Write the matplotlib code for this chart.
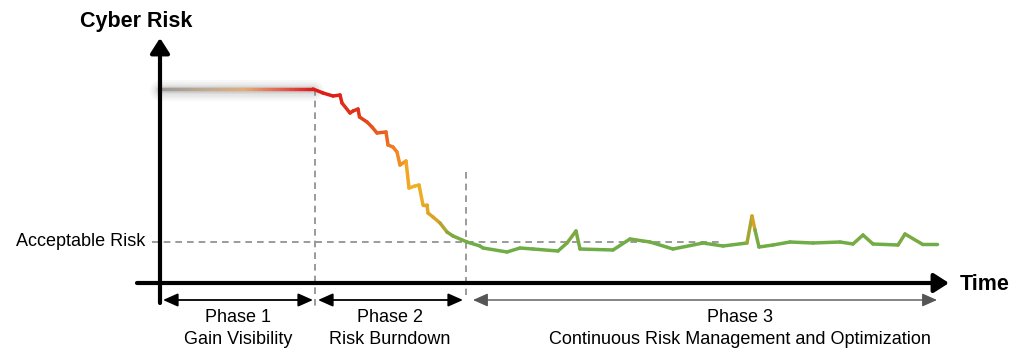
import numpy as np
import matplotlib
matplotlib.use("Agg")
import matplotlib.pyplot as plt
from matplotlib.collections import LineCollection
from matplotlib.colors import LinearSegmentedColormap

# ---------------- data (time units / risk units) -------------
phase1_time = [0, 153]
phase1_risk = [194, 194]

curve_time = [153, 163, 173, 180, 182, 190, 193, 198, 199.5, 207, 212, 217, 226, 228,
              233, 237, 240, 246, 249, 255, 259, 263, 267, 268, 273, 280, 287, 293,
              307, 320,
              323, 347, 360, 373, 398, 407, 416, 420, 453, 470, 490, 513, 543, 563,
              587, 592, 595, 599, 613, 630, 653, 680, 693, 703, 713, 738, 745, 762, 777]
curve_risk = [194, 190, 187, 188, 180, 170, 172, 174, 166, 161, 156, 150, 151, 138,
              136, 131, 118, 122, 95, 97, 98, 78, 78, 70, 66, 60, 51, 47,
              41, 37,
              35, 31, 35, 34, 32, 40, 52, 34, 33, 44, 41, 34, 40, 37,
              40, 67, 53, 36, 38, 41, 40, 41, 39, 48, 39, 38, 49, 39, 39]

acceptable_risk = 41
phase_bounds = [0, 155, 306, 777]
phase_titles = ["Phase 1", "Phase 2", "Phase 3"]
phase_subtitles = ["Gain Visibility", "Risk Burndown",
                   "Continuous Risk Management and Optimization"]
phase_centers = [78, 230, 580]

FONT = ["Liberation Sans", "DejaVu Sans"]

# ---------------- figure ----------------
fig = plt.figure(figsize=(10.24, 3.6), dpi=100)
ax = fig.add_axes([0, 0, 1, 1])
ax.set_xlim(-160, 864)
ax.set_ylim(-77, 283)
ax.axis("off")

# dashed guide lines
dash_kw = dict(color="#8a8a8a", lw=1.2, dashes=(4, 3), zorder=1)
ax.plot([-8, 560], [acceptable_risk, acceptable_risk], **dash_kw)
ax.plot([phase_bounds[1], phase_bounds[1]], [phase1_risk[-1], -24], **dash_kw)
ax.plot([phase_bounds[2], phase_bounds[2]], [111, -12], **dash_kw)

# phase 1 glow
for w, a in [(15, 0.05), (12, 0.06), (9, 0.08), (6, 0.10), (4, 0.12)]:
    ax.plot(phase1_time, [r - 0.8 for r in phase1_risk], color="#7a7a7a", lw=w,
            alpha=a, solid_capstyle="round", zorder=2)

# phase 1 gradient line (color by time)
cm1 = LinearSegmentedColormap.from_list(
    "p1", [(0, "#9a9a9a"), (0.3, "#c0aa92"), (0.55, "#e2ae78"),
           (0.8, "#e26050"), (1.0, "#dc1c1c")])
tt = np.linspace(phase1_time[0], phase1_time[1], 120)
rr = np.interp(tt, phase1_time, phase1_risk)
pts = np.column_stack([tt, rr]).reshape(-1, 1, 2)
segs = np.concatenate([pts[:-1], pts[1:]], axis=1)
lc1 = LineCollection(segs, colors=cm1((tt[:-1] - tt[0]) / (tt[-1] - tt[0])),
                     linewidths=2.4, capstyle="round", zorder=3)
ax.add_collection(lc1)

# main curve gradient (color by risk level)
cm2 = LinearSegmentedColormap.from_list(
    "p2", [(0.0, "#70ad47"), (40 / 200, "#70ad47"), (50 / 200, "#8aa63a"),
           (60 / 200, "#d8a224"), (100 / 200, "#f4b224"), (135 / 200, "#ee7c22"),
           (170 / 200, "#e0341a"), (1.0, "#dc1414")])
ct = np.asarray(curve_time, float)
cr = np.asarray(curve_risk, float)
pts = np.column_stack([ct, cr]).reshape(-1, 1, 2)
segs = np.concatenate([pts[:-1], pts[1:]], axis=1)
mid = (cr[:-1] + cr[1:]) / 2
lc2 = LineCollection(segs, colors=cm2(np.clip(mid / 200, 0, 1)),
                     linewidths=2.5, capstyle="round", joinstyle="round", zorder=3)
ax.add_collection(lc2)

# axes arrows
ax.annotate("", xy=(0, 245), xytext=(0, -20),
            arrowprops=dict(arrowstyle="-|>,head_length=0.75,head_width=0.48",
                            lw=3, color="black", mutation_scale=12,
                            shrinkA=0, shrinkB=0), zorder=4)
ax.annotate("", xy=(789, 0), xytext=(-23, 0),
            arrowprops=dict(arrowstyle="-|>,head_length=0.75,head_width=0.48",
                            lw=3, color="black", mutation_scale=12,
                            shrinkA=0, shrinkB=0), zorder=4)

# phase arrows
phase_arrow_spans = [(3, 153), (158, 303), (313, 777)]
phase_arrow_colors = ["black", "black", "#555555"]
phase_arrow_lw = [1.3, 1.3, 1.0]
for (a, b), c, lw in zip(phase_arrow_spans, phase_arrow_colors, phase_arrow_lw):
    ax.annotate("", xy=(b, -17), xytext=(a, -17),
                arrowprops=dict(arrowstyle="<|-|>,head_length=0.9,head_width=0.4",
                                lw=lw, color=c, mutation_scale=10,
                                shrinkA=0, shrinkB=0))

# texts
ax.text(-24, 261, "Cyber Risk", family=FONT, fontsize=15.5, fontweight="bold",
        ha="center", va="center")
ax.text(800, -1, "Time", family=FONT, fontsize=15.5, fontweight="bold",
        ha="left", va="center")
ax.text(-15, acceptable_risk, "Acceptable Risk", family=FONT, fontsize=13,
        ha="right", va="center")
for cx, t1, t2 in zip(phase_centers, phase_titles, phase_subtitles):
    ax.text(cx, -35, t1, family=FONT, fontsize=13, ha="center", va="center")
    ax.text(cx, -57, t2, family=FONT, fontsize=13, ha="center", va="center")

fig.savefig("out.png", dpi=100)
